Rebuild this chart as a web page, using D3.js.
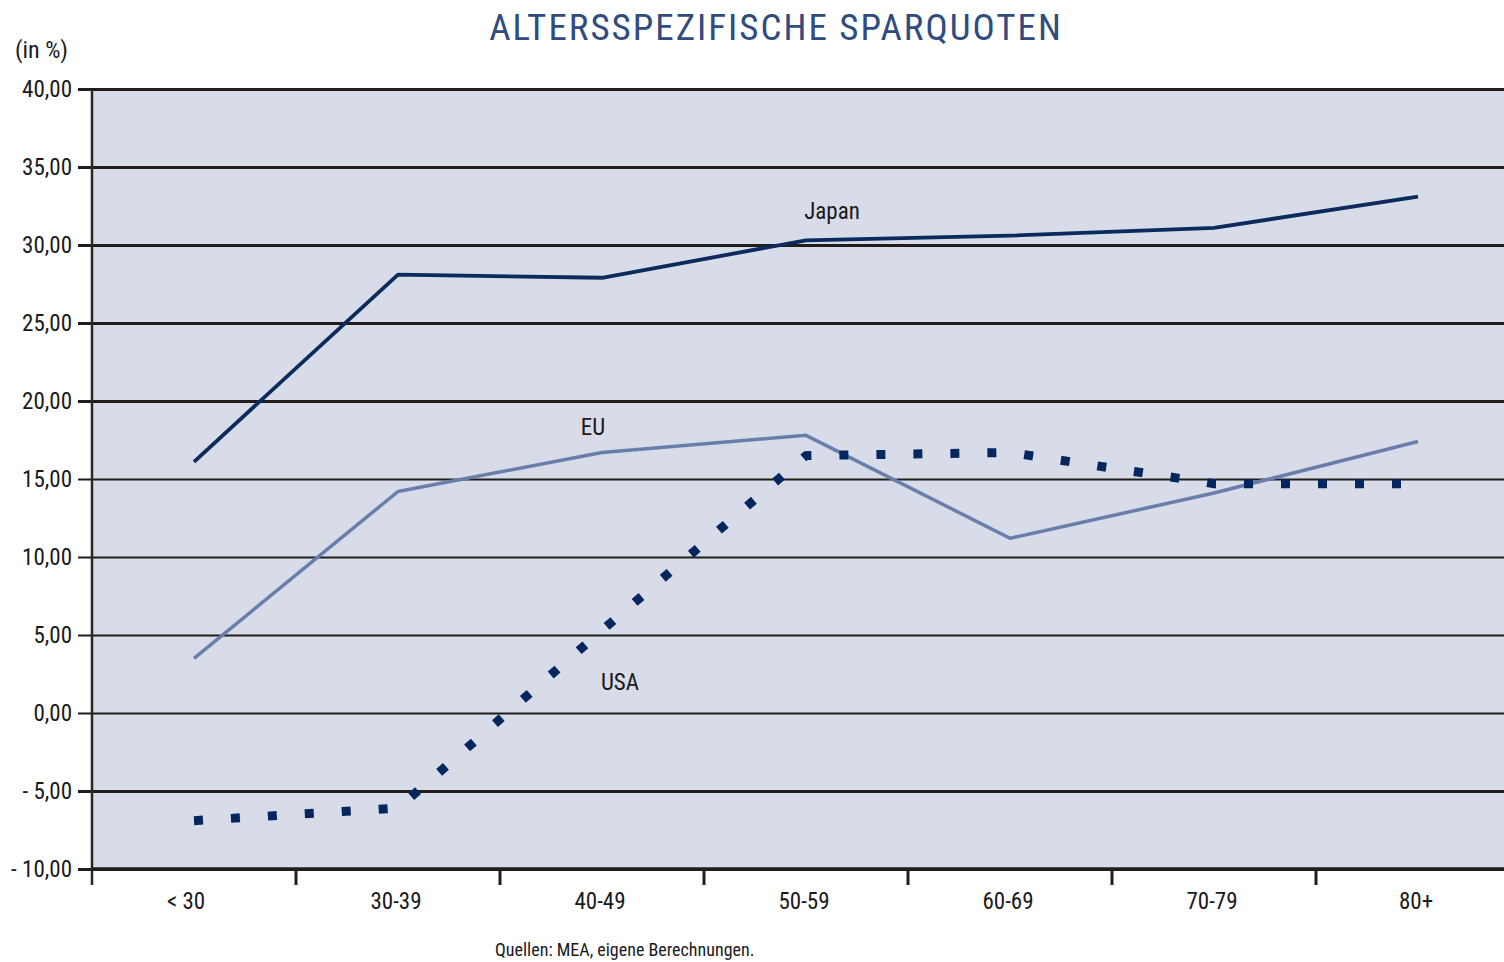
<!DOCTYPE html>
<html>
<head>
<meta charset="utf-8">
<script src="https://cdn.jsdelivr.net/npm/d3@7"></script>
<style>
  html, body { margin: 0; padding: 0; background: #ffffff; overflow: hidden; }
  svg { display: block; }
  text { font-family: "Liberation Sans Narrow", "Roboto Condensed", "DejaVu Sans Condensed", sans-serif; }
</style>
</head>
<body>
<svg id="chart" width="1504" height="962"></svg>
<script>
// Age groups on the horizontal axis
const categories = ["< 30", "30-39", "40-49", "50-59", "60-69", "70-79", "80+"];

// Age-specific saving rates (in %)
const japan = [16.1, 28.1, 27.9, 30.3, 30.6, 31.1, 33.1];
const eu    = [3.5, 14.2, 16.7, 17.8, 11.2, 14.1, 17.4];
const usa   = [-6.9, -6.1, 5.3, 16.5, 16.7, 14.7, 14.7];

// Value axis ticks
const yTicks = [40, 35, 30, 25, 20, 15, 10, 5, 0, -5, -10];

const svg = d3.select("#chart");
const margin = { left: 92, right: -16, top: 89, bottom: 93 };
const W = 1504, H = 962;

const x = d3.scaleBand()
  .domain(categories)
  .range([margin.left, W - margin.right])
  .paddingInner(0).paddingOuter(0);

const y = d3.scaleLinear()
  .domain([-10, 40])
  .range([H - margin.bottom, margin.top]);

const fmt = v => {
  const s = d3.format(".2f")(Math.abs(v)).replace(".", ",");
  return v < 0 ? "- " + s : s;
};

// Title
svg.append("text")
  .attr("x", 776).attr("y", 40)
  .attr("text-anchor", "middle")
  .attr("fill", "#2f4b80")
  .attr("font-size", 37)
  .attr("letter-spacing", 2)
  .text("ALTERSSPEZIFISCHE SPARQUOTEN");

// Unit label
svg.append("text")
  .attr("x", 15).attr("y", 58)
  .attr("fill", "#1a1a1a")
  .attr("font-size", 24)
  .text("(in %)");

// Plot background
svg.append("rect")
  .attr("x", margin.left).attr("y", y(40))
  .attr("width", W - margin.left - margin.right).attr("height", y(-10) - y(40))
  .attr("fill", "#d7dce8");

// Gridlines and value labels
const yAxis = d3.axisLeft(y)
  .tickValues(yTicks)
  .tickSize(-(W - margin.left - margin.right))
  .tickPadding(20)
  .tickFormat(fmt);

const gy = svg.append("g")
  .attr("transform", `translate(${margin.left},0)`)
  .call(yAxis);
gy.select(".domain").remove();
gy.selectAll(".tick line")
  .attr("x1", -14)
  .attr("stroke", "#201d1b")
  .attr("stroke-width", d => (d >= 0 && d <= 15) ? 2 : 3);
gy.selectAll(".tick text")
  .attr("x", -20)
  .attr("fill", "#1a1a1a")
  .attr("font-size", 23)
  .attr("font-family", "'Liberation Sans Narrow', sans-serif");

// Vertical axis line
svg.append("line")
  .attr("x1", margin.left).attr("x2", margin.left)
  .attr("y1", y(40)).attr("y2", y(-10) + 16)
  .attr("stroke", "#2a2725").attr("stroke-width", 2.5);

// Category axis with tick marks at band boundaries
const gx = svg.append("g")
  .attr("transform", `translate(0,${y(-10)})`);
gx.append("line")
  .attr("x1", margin.left).attr("x2", W)
  .attr("stroke", "#201d1b").attr("stroke-width", 3.5);
gx.selectAll("line.tk")
  .data(categories.slice(1))
  .join("line")
  .attr("class", "tk")
  .attr("x1", d => x(d)).attr("x2", d => x(d))
  .attr("y1", 0).attr("y2", 16)
  .attr("stroke", "#201d1b").attr("stroke-width", 3);
gx.selectAll("text")
  .data(categories)
  .join("text")
  .attr("x", (d, i) => x(d) + x.bandwidth() / 2 - (i === 0 ? 8 : 2))
  .attr("y", 40)
  .attr("text-anchor", "middle")
  .attr("fill", "#1a1a1a")
  .attr("font-size", 23)
  .text(d => d);

// Series lines
const line = d3.line()
  .x((d, i) => x(categories[i]) + x.bandwidth() / 2)
  .y(d => y(d));

svg.append("path")
  .datum(eu)
  .attr("d", line)
  .attr("fill", "none")
  .attr("stroke", "#6a7eab")
  .attr("stroke-width", 3.5)
  .attr("stroke-linejoin", "round");

svg.append("path")
  .datum(japan)
  .attr("d", line)
  .attr("fill", "none")
  .attr("stroke", "#0c2a5c")
  .attr("stroke-width", 3.8)
  .attr("stroke-linejoin", "round");

svg.append("path")
  .datum(usa)
  .attr("d", line)
  .attr("fill", "none")
  .attr("stroke", "#062660")
  .attr("stroke-width", 9)
  .attr("stroke-dasharray", "9 28");

// Series labels
const seriesLabels = [
  { name: "Japan", cat: "50-59", value: japan[3], dx: 26, dy: -21 },
  { name: "EU",    cat: "40-49", value: eu[2],    dx: -9, dy: -17 },
  { name: "USA",   cat: "40-49", value: usa[2],   dx: 18, dy: 60 }
];
svg.selectAll("text.series")
  .data(seriesLabels)
  .join("text")
  .attr("class", "series")
  .attr("x", d => x(d.cat) + x.bandwidth() / 2 + d.dx)
  .attr("y", d => y(d.value) + d.dy)
  .attr("text-anchor", "middle")
  .attr("fill", "#1a1a1a")
  .attr("font-size", 23)
  .text(d => d.name);

// Source note
svg.append("text")
  .attr("x", 495).attr("y", 956)
  .attr("fill", "#1a1a1a")
  .attr("font-size", 18)
  .text("Quellen: MEA, eigene Berechnungen.");
</script>
</body>
</html>
